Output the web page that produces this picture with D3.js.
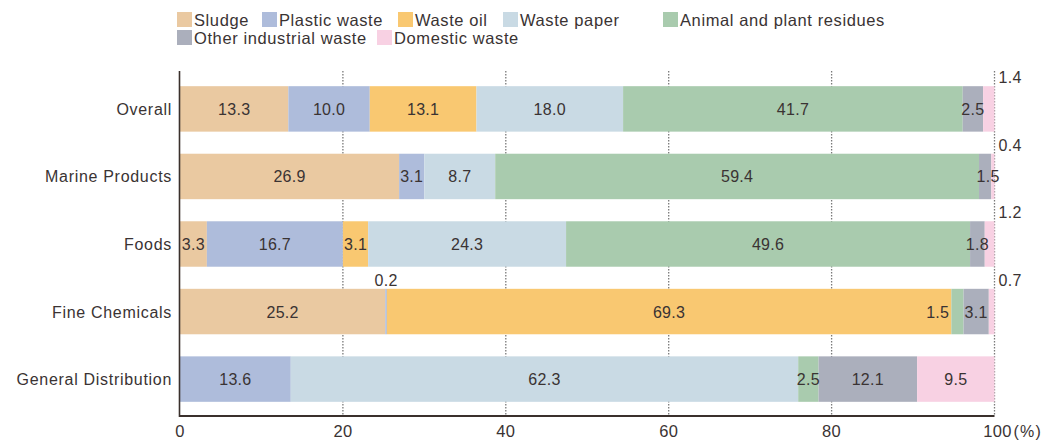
<!DOCTYPE html>
<html><head><meta charset="utf-8">
<script src="https://cdn.jsdelivr.net/npm/d3@7"></script>
<style>body{margin:0;background:#fff}svg{display:block;font-family:"Liberation Sans",Arial,sans-serif}</style>
</head><body><svg id="c" width="1043" height="440"></svg>
<script>
const categories = ["Overall","Marine Products","Foods","Fine Chemicals","General Distribution"];
const seriesNames = ["Sludge","Plastic waste","Waste oil","Waste paper","Animal and plant residues","Other industrial waste","Domestic waste"];
const sludge   = [13.3, 26.9, 3.3, 25.2, 0];
const plastic  = [10.0, 3.1, 16.7, 0.2, 13.6];
const wasteOil = [13.1, 0, 3.1, 69.3, 0];
const paper    = [18.0, 8.7, 24.3, 0, 62.3];
const animal   = [41.7, 59.4, 49.6, 1.5, 2.5];
const other    = [2.5, 1.5, 1.8, 3.1, 12.1];
const domestic = [1.4, 0.4, 1.2, 0.7, 9.5];
const xTicks = [0, 20, 40, 60, 80, 100];
const colors = ["#eac9a1","#aebcdb","#f9c871","#c9dae4","#a9cbae","#abafbc","#f8d1e3"];

const seriesVals = [sludge, plastic, wasteOil, paper, animal, other, domestic];
const rows = categories.map((c,i)=>{const o={cat:c}; seriesNames.forEach((s,j)=>o[s]=seriesVals[j][i]); return o;});
const stack = d3.stack().keys(seriesNames)(rows);

const svg = d3.select("#c");
const x = d3.scaleLinear().domain([0,100]).range([180,994.5]);
const y = d3.scaleBand().domain(categories).range([72,416]).paddingInner(0.327).paddingOuter(0.21);
const textColor = "#3a3333";

// gridlines
svg.append("g").selectAll("line").data(xTicks.filter(t=>t>0)).join("line")
  .attr("x1",d=>x(d)).attr("x2",d=>x(d)).attr("y1",71).attr("y2",416)
  .attr("stroke","#7a7a7a").attr("stroke-width",1.3).attr("stroke-dasharray","1.5,1.5");

// bars
const g = svg.append("g");
stack.forEach((layer,j)=>{
  g.append("g").attr("fill",colors[j]).selectAll("rect").data(layer).join("rect")
    .attr("x",d=>x(d[0])).attr("width",d=>x(d[1])-x(d[0]))
    .attr("y",(d,i)=>y(categories[i])).attr("height",y.bandwidth());
});

// labels
const lbl = svg.append("g").attr("font-size",16).attr("letter-spacing",0.3).attr("fill",textColor);
stack.forEach((layer,j)=>{
  layer.forEach((d,i)=>{
    const v = seriesVals[j][i];
    if (!v) return;
    const cat = categories[i];
    let tx = (x(d[0])+x(d[1]))/2, ty = y(cat)+y.bandwidth()/2+6, anchor="middle";
    if (v < 1.5 && j===6) { tx = x(100)+4; ty = y(cat)-3; anchor="start"; }
    else if (v < 1) { ty = y(cat)-3; }
    else if (cat==="Fine Chemicals" && j===4) { tx = x(d[0])-2; anchor="end"; }
    else if (cat==="Marine Products" && j===5) { tx += 3; }
    lbl.append("text").attr("x",tx).attr("y",ty).attr("text-anchor",anchor).text(v.toFixed(1));
  });
});

// axes
svg.append("line").attr("x1",179.5).attr("x2",179.5).attr("y1",71).attr("y2",417)
  .attr("stroke","#3a302c").attr("stroke-width",1.6);
svg.append("line").attr("x1",179).attr("x2",994.5).attr("y1",416).attr("y2",416)
  .attr("stroke","#3a302c").attr("stroke-width",2);

const xa = svg.append("g").attr("font-size",16.5).attr("letter-spacing",0.3).attr("fill",textColor);
xTicks.forEach(t=>{
  xa.append("text").attr("x",x(t)+(t===100?3:0)).attr("y",437).attr("text-anchor","middle").text(t);
});
xa.append("text").attr("x",x(100)+19).attr("y",437).attr("font-size",16).attr("letter-spacing",1.2).text("(%)");

svg.append("g").attr("font-size",16).attr("letter-spacing",0.7).attr("fill",textColor).selectAll("text").data(categories).join("text")
  .attr("x",172).attr("y",d=>y(d)+y.bandwidth()/2+6).attr("text-anchor","end").text(d=>d);

// legend
const legendPos = [[177,12],[262,12],[398,12],[503,12],[663,12],[177,30],[377,30]];
const lg = svg.append("g").attr("font-size",16.5).attr("letter-spacing",0.6).attr("fill",textColor);
seriesNames.forEach((s,j)=>{
  const [lx,ly]=legendPos[j];
  lg.append("rect").attr("x",lx).attr("y",ly).attr("width",15).attr("height",15).attr("fill",colors[j]);
  lg.append("text").attr("x",lx+17).attr("y",ly+14).text(s);
});
</script></body></html>
